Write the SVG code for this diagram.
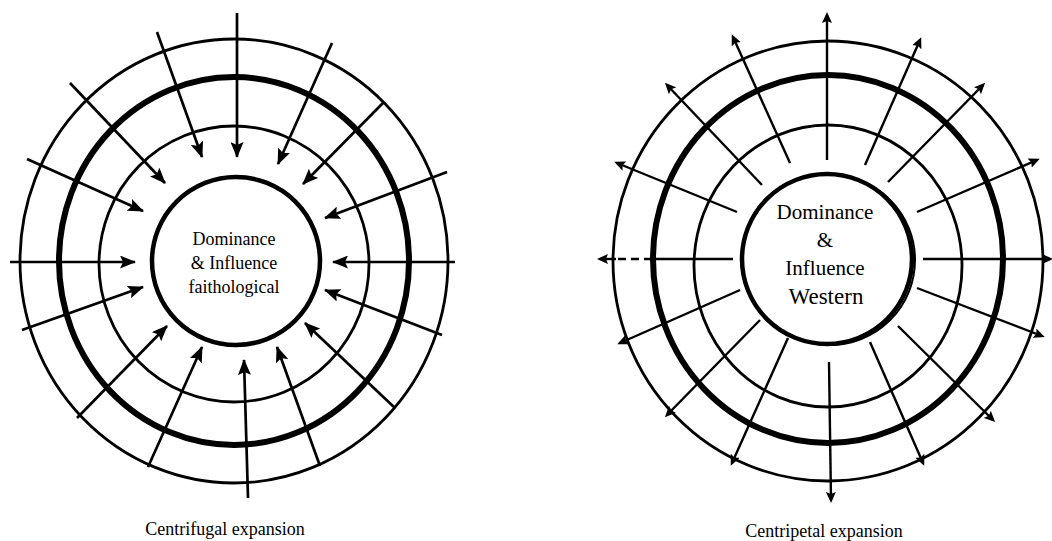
<svg xmlns="http://www.w3.org/2000/svg" width="1052" height="541" viewBox="0 0 1052 541">
<defs>
<marker id="inHead" markerUnits="userSpaceOnUse" markerWidth="17" markerHeight="13" refX="15" refY="6.5" orient="auto">
<path d="M0,0 L16,6.5 L0,13 L3,6.5 z" fill="#000"/>
</marker>
<marker id="outHead" markerUnits="userSpaceOnUse" markerWidth="12" markerHeight="10" refX="8" refY="5" orient="auto">
<path d="M0,0 L11,5 L0,10 L2,5 z" fill="#000"/>
</marker>
</defs>
<style>
.ring{fill:none;stroke:#000;stroke-width:2.8}
.thick{fill:none;stroke:#000;stroke-width:6}
.core{fill:#fff;stroke:#000;stroke-width:4.5}
.inarr{stroke:#000;stroke-width:2.7;fill:none;marker-end:url(#inHead)}
.outarr{stroke:#000;stroke-width:2.4;fill:none;marker-end:url(#outHead)}
.lbl{font-family:"Liberation Serif","Times New Roman",serif;fill:#000;text-anchor:middle}
</style>
<rect width="1052" height="541" fill="#fff"/>

<g id="left-rings">
<ellipse class="ring" cx="234" cy="261" rx="214" ry="222"/>
<ellipse class="thick" cx="234" cy="261" rx="175" ry="184"/>
<ellipse class="ring" cx="234" cy="264" rx="135" ry="138"/>
</g>
<g id="left-arrows">
<line class="inarr" x1="237" y1="13" x2="237" y2="157"/>
<line class="inarr" x1="157" y1="32" x2="202" y2="157"/>
<line class="inarr" x1="332" y1="43" x2="278" y2="164"/>
<line class="inarr" x1="70" y1="83" x2="165" y2="183"/>
<line class="inarr" x1="383" y1="103" x2="303" y2="184"/>
<line class="inarr" x1="27" y1="159" x2="143" y2="211"/>
<line class="inarr" x1="447" y1="172" x2="325" y2="218"/>
<line class="inarr" x1="10" y1="262" x2="135" y2="262"/>
<line class="inarr" x1="455" y1="262" x2="333" y2="262"/>
<line class="inarr" x1="22" y1="330" x2="143" y2="287"/>
<line class="inarr" x1="442" y1="335" x2="325" y2="290"/>
<line class="inarr" x1="77" y1="418" x2="167" y2="326"/>
<line class="inarr" x1="395" y1="408" x2="305" y2="323"/>
<line class="inarr" x1="148" y1="467" x2="202" y2="347"/>
<line class="inarr" x1="320" y1="466" x2="277" y2="347"/>
<line class="inarr" x1="248" y1="498" x2="244" y2="360"/>
</g>
<g id="left-core">
<circle class="core" cx="236" cy="261" r="84"/>
<text class="lbl" font-size="18" x="234" y="245">Dominance</text>
<text class="lbl" font-size="18" x="234" y="269">&amp; Influence</text>
<text class="lbl" font-size="18" x="234" y="293">faithological</text>
</g>
<text id="left-caption" class="lbl" font-size="18" x="225" y="535">Centrifugal expansion</text>

<g id="right-rings">
<ellipse class="ring" cx="828" cy="261" rx="215" ry="220"/>
<ellipse class="thick" cx="828" cy="259" rx="175" ry="184"/>
<ellipse class="ring" cx="828" cy="266" rx="134" ry="141"/>
</g>
<g id="right-arrows">
<line class="outarr" x1="827" y1="160" x2="827" y2="15"/>
<line class="outarr" x1="790" y1="163" x2="733" y2="37"/>
<line class="outarr" x1="865" y1="165" x2="920" y2="40"/>
<line class="outarr" x1="762" y1="185" x2="667" y2="85"/>
<line class="outarr" x1="888" y1="182" x2="983" y2="85"/>
<line class="outarr" x1="737" y1="212" x2="617" y2="163"/>
<line class="outarr" x1="917" y1="212" x2="1037" y2="160"/>
<line stroke="#000" stroke-width="2.4" x1="733" y1="259" x2="652" y2="259"/>
<line stroke="#000" stroke-width="2.4" stroke-dasharray="8,5" x1="652" y1="259" x2="616" y2="259"/>
<line class="outarr" x1="616" y1="259" x2="600" y2="259"/>
<line class="outarr" x1="923" y1="259" x2="1050" y2="259"/>
<line class="outarr" x1="740" y1="290" x2="620" y2="343"/>
<line class="outarr" x1="917" y1="288" x2="1042" y2="336"/>
<line class="outarr" x1="760" y1="320" x2="667" y2="415"/>
<line class="outarr" x1="898" y1="326" x2="993" y2="420"/>
<line class="outarr" x1="788" y1="338" x2="732" y2="463"/>
<line class="outarr" x1="870" y1="342" x2="923" y2="463"/>
<line class="outarr" x1="829" y1="362" x2="831" y2="500"/>
</g>
<g id="right-core">
<circle fill="none" stroke="#000" stroke-width="2" cx="830" cy="260" r="85"/>
<circle class="core" cx="827" cy="259" r="85"/>
<text class="lbl" font-size="21" x="825" y="219">Dominance</text>
<text class="lbl" font-size="21" x="825" y="247">&amp;</text>
<text class="lbl" font-size="21" x="825" y="275">Influence</text>
<text class="lbl" font-size="23" x="826" y="304">Western</text>
</g>
<text id="right-caption" class="lbl" font-size="18" x="824" y="537">Centripetal expansion</text>
</svg>
